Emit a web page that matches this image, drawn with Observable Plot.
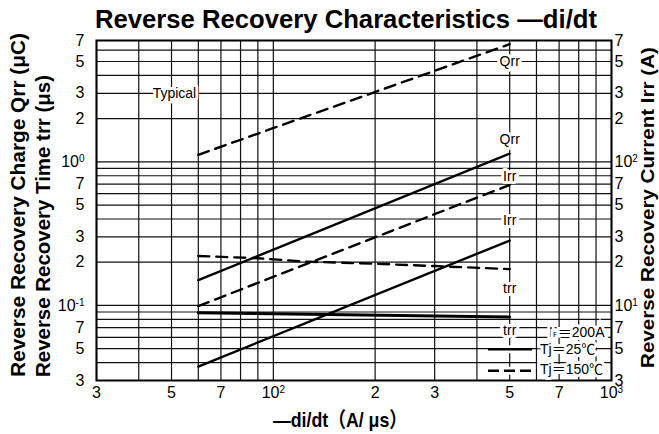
<!DOCTYPE html>
<html><head><meta charset="utf-8">
<script src="https://cdn.jsdelivr.net/npm/d3@7"></script>
<script src="https://cdn.jsdelivr.net/npm/@observablehq/plot@0.6"></script>
<style>body{margin:0;background:#fff} svg{display:block}</style>
</head><body><div id="chart"></div>
<script>
// -di/dt (A/μs) at the ends of each curve
const diDt = [60, 500];
// Reverse recovery charge Qrr (μC)
const qrr25 = [0.15, 1.14];
const qrr150 = [1.12, 6.6];
// Reverse recovery current Irr (A) — right axis
const irr25 = [3.75, 28.3];
const irr150 = [9.9, 69];
// Reverse recovery time trr (μs)
const trrX150 = [60, 90, 125, 200, 300, 500];
const trr150 = [0.221, 0.213, 0.202, 0.195, 0.188, 0.179];
const trrX25 = [60, 500];
const trr25 = [0.089, 0.083];

// grid and ticks
const xGrid = [30, 40, 50, 60, 70, 80, 90, 100, 200, 300, 400, 500, 600, 700, 800, 900, 1000];
const yGrid = [0.03, 0.04, 0.05, 0.06, 0.07, 0.08, 0.09, 0.1, 0.2, 0.3, 0.4, 0.5, 0.6, 0.7, 0.8, 0.9, 1, 2, 3, 4, 5, 6, 7];
const xTicks = [30, 50, 70, 100, 200, 300, 500, 700, 1000];
const xTickLabels = ["3", "5", "7", "10^2", "2", "3", "5", "7", "10^3"];
const yTicks = [7, 5, 3, 2, 1, 0.7, 0.5, 0.3, 0.2, 0.1, 0.07, 0.05, 0.03];
const yLeftLabels = ["7", "5", "3", "2", "10^0", "7", "5", "3", "2", "10^-1", "7", "5", "3"];
const yRightLabels = ["7", "5", "3", "2", "10^2", "7", "5", "3", "2", "10^1", "7", "5", "3"];

// curve labels (x in A/μs, y on left scale)
const labelText = ["Typical", "Qrr", "Qrr", "Irr", "Irr", "trr", "trr"];
const labelX = [51, 500, 500, 500, 500, 500, 500];
const labelY = [3, 5, 1.43, 0.79, 0.39, 0.131, 0.067];

const rows = [];
function add(name, xs, ys, k, dashed) { xs.forEach((x, i) => rows.push({name, x, y: ys[i] * k, dashed})); }
add("qrr25", diDt, qrr25, 1, false);
add("qrr150", diDt, qrr150, 1, true);
add("irr25", diDt, irr25, 0.01, false);
add("irr150", diDt, irr150, 0.01, true);
add("trr150", trrX150, trr150, 1, true);
const trrRows = trrX25.map((x, i) => ({name: "trr25", x, y: trr25[i]}));
const labels = labelText.map((t, i) => ({t, x: labelX[i], y: labelY[i]}));
const xT = xTicks.map((v, i) => ({v, t: xTickLabels[i]}));
const yL = yTicks.map((v, i) => ({v, t: yLeftLabels[i]}));
const yR = yTicks.map((v, i) => ({v, t: yRightLabels[i]}));

const FONT = "'Liberation Sans', Arial, 'Noto Sans CJK JP', sans-serif";

const svg = Plot.plot({
  width: 659, height: 434,
  marginLeft: 96, marginRight: 48, marginTop: 40, marginBottom: 54,
  style: {fontFamily: FONT, fontSize: "16px", color: "#000", background: "#fff"},
  x: {type: "log", domain: [30, 1000], label: null, axis: null},
  y: {type: "log", domain: [0.03, 7], label: null, axis: null},
  marks: [
    Plot.ruleX(xGrid, {stroke: "#111", strokeWidth: 1.2}),
    Plot.ruleY(yGrid, {stroke: "#111", strokeWidth: 1.2}),
    Plot.line(rows.filter(d => !d.dashed), {x: "x", y: "y", z: "name", stroke: "#000", strokeWidth: 2.4}),
    Plot.line(rows.filter(d => d.dashed), {x: "x", y: "y", z: "name", stroke: "#000", strokeWidth: 2.4, strokeDasharray: "11,7"}),
    Plot.line(trrRows, {x: "x", y: "y", stroke: "#000", strokeWidth: 3}),
    Plot.text(labels, {x: "x", y: "y", text: "t", fontSize: 14, fill: "#000", stroke: "#fff", strokeWidth: 6}),
    Plot.frame({stroke: "#000", strokeWidth: 2}),
    Plot.text(xT, {x: "v", text: "t", frameAnchor: "bottom", lineAnchor: "top", dy: 6, fontSize: 16, fill: "#000"}),
    Plot.text(yL, {y: "v", text: "t", frameAnchor: "left", textAnchor: "end", dx: -12, fontSize: 16, fill: "#000"}),
    Plot.text(yR, {y: "v", text: "t", frameAnchor: "right", textAnchor: "start", dx: 3, fontSize: 16, fill: "#000"})
  ]
});

const s = d3.select(svg);
s.selectAll("text").each(function () {
  const t = this.textContent;
  if (t && t.includes("^")) {
    const [b, e] = t.split("^");
    const el = d3.select(this);
    el.text(b);
    el.append("tspan").attr("font-size", 10).attr("dy", -5).text(e);
  }
});

function txt(x, y, str, opts = {}) {
  const el = s.append("text").attr("x", x).attr("y", y).attr("fill", "#000")
    .attr("font-family", FONT).attr("font-size", opts.size || 16)
    .attr("font-weight", opts.bold ? "bold" : null)
    .attr("text-anchor", opts.anchor || "start");
  if (opts.rotate) el.attr("transform", `rotate(-90 ${x} ${y})`);
  if (opts.len) el.attr("textLength", opts.len).attr("lengthAdjust", "spacingAndGlyphs");
  el.text(str);
  return el;
}
// title
txt(95, 28, "Reverse Recovery Characteristics —di/dt", {size: 25, bold: true, len: 502});
// x label
txt(273, 427, "—di/dt（A/ μs）", {size: 21, bold: true, len: 134});
// y labels
txt(25, 377, "Reverse Recovery Charge Qrr (μC)", {size: 20, bold: true, rotate: true, len: 344});
txt(50, 377, "Reverse Recovery Time trr (μs)", {size: 20, bold: true, rotate: true, len: 302});
txt(654, 368, "Reverse Recovery Current Irr (A)", {size: 19, bold: true, rotate: true, len: 321});

// legend
const lg = s.append("g");
const halo = el => el.attr("stroke", "#fff").attr("stroke-width", 6).attr("paint-order", "stroke");
const t1 = halo(txt(549, 336.5, "I", {size: 14}));
t1.append("tspan").attr("font-size", 8).text("F");
t1.append("tspan").text("＝200A");
lg.append("line").attr("x1", 488).attr("x2", 532).attr("y1", 349.3).attr("y2", 349.3).attr("stroke", "#fff").attr("stroke-width", 8);
lg.append("line").attr("x1", 488).attr("x2", 532).attr("y1", 370.7).attr("y2", 370.7).attr("stroke", "#fff").attr("stroke-width", 8);
lg.append("line").attr("x1", 488).attr("x2", 532).attr("y1", 349.3).attr("y2", 349.3).attr("stroke", "#000").attr("stroke-width", 2.5);
lg.append("line").attr("x1", 488).attr("x2", 533).attr("y1", 370.7).attr("y2", 370.7).attr("stroke", "#000").attr("stroke-width", 2.5).attr("stroke-dasharray", "11,5");
halo(txt(540, 354, "Tj＝25℃", {size: 14}));
halo(txt(540, 374, "Tj＝150℃", {size: 14}));

document.getElementById("chart").appendChild(svg);
</script>
</body></html>
